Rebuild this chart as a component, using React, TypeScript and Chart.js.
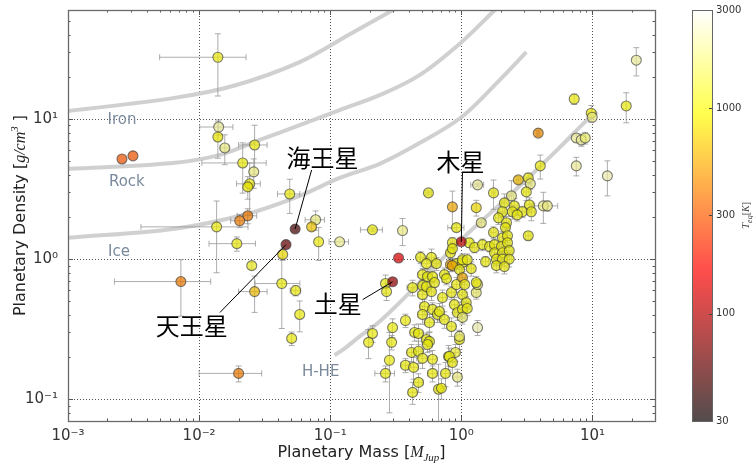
import React, { useEffect, useRef } from 'react';
import { Chart, registerables } from 'chart.js';
Chart.register(...registerables);

// ---------- axis ticks ----------
const X_TICKS = [0.001, 0.01, 0.1, 1, 10];
const X_TICK_LABELS = ['10⁻³', '10⁻²', '10⁻¹', '10⁰', '10¹'];
const Y_TICKS = [0.1, 1, 10];
const Y_TICK_LABELS = ['10⁻¹', '10⁰', '10¹'];
const CB_TICKS = [30, 100, 300, 1000, 3000];
const CB_TICK_LABELS = ['30', '100', '300', '1000', '3000'];

// ---------- composition curves [mass, density] ----------
const ironCurve = [[0.001, 11.4], [0.00631, 14.1], [0.0181, 17.2], [0.0585, 25.5], [0.141, 40.3], [0.299, 59.7], [0.48, 76]];
const rockCurve = [[0.001, 4.41], [0.00631, 4.86], [0.0144, 5.55], [0.029, 7.09], [0.0585, 9.06], [0.118, 11.6], [0.238, 14.8], [0.48, 20.6], [1.0, 35.3], [1.79, 59.7], [2.32, 76]];
const iceCurve = [[0.001, 1.42], [0.00653, 1.65], [0.0235, 2.11], [0.0585, 2.83], [0.118, 3.8], [0.238, 4.79], [0.48, 6.74], [1.0, 10.3], [1.95, 18.9], [3.13, 30.0]];
const hheCurve = [[0.108, 0.206], [0.129, 0.231], [0.168, 0.281], [0.238, 0.359], [0.425, 0.607], [0.681, 0.96], [1.0, 1.38], [1.95, 2.44], [3.3, 3.87], [5.58, 6.22], [9.46, 10.2], [10.9, 11.2]];

// ---------- exoplanets: [mass, massErr, density, densityErr, Teq] ----------
const smallPlanets = [
  [0.0139, 0.0089, 27.6, 13, 1000], [0.0141, 0.004, 8.77, 1.1, 2000], [0.0139, 0, 7.45, 2.2, 900],
  [0.0157, 0.0012, 6.22, 1.5, 1800], [0.0215, 0.011, 4.86, 1.9, 1000], [0.0265, 0.0065, 6.53, 2.5, 1000],
  [0.0261, 0, 4.2, 1.0, 1800], [0.0243, 0.005, 3.45, 1.4, 1000], [0.0235, 0, 3.28, 0.6, 900],
  [0.0491, 0.0095, 2.92, 0.8, 1000], [0.0235, 0.004, 2.04, 0.25, 400], [0.0204, 0.003, 1.88, 0.2, 400],
  [0.0136, 0.01, 1.7, 0.9, 1000], [0.0774, 0.013, 1.91, 0.3, 1800], [0.0721, 0, 1.7, 0.1, 700],
  [0.0194, 0.0075, 1.29, 0.15, 1000], [0.0434, 0, 1.08, 0.1, 800], [0.0252, 0, 0.899, 0.05, 1100],
  [0.00726, 0.005, 0.692, 0.3, 400], [0.0427, 0.016, 0.67, 0.35, 1000], [0.0265, 0.0065, 0.587, 0.17, 650],
  [0.0545, 0.005, 0.597, 0.05, 1000], [0.0585, 0, 0.403, 0.1, 1000], [0.0508, 0, 0.272, 0.03, 1000],
  [0.02, 0.01, 0.153, 0.02, 400], [0.00258, 0, 5.19, 0, 300], [0.00313, 0, 5.46, 0, 300],
  [0.0816, 0, 1.33, 0.35, 1000], [0.118, 0.02, 1.33, 0, 1900],
];
const saturnMass = [
  [0.21, 0.04, 1.62, 0.05, 1000], [0.356, 0, 1.6, 0.35, 1800], [0.21, 0, 0.295, 0.04, 1000],
  [0.196, 0, 0.255, 0.06, 1000], [0.332, 0, 1.02, 0, 140], [0.264, 0, 0.67, 0.1, 1000],
  [0.269, 0, 0.587, 0.08, 1000], [0.375, 0, 0.365, 0.04, 1000], [0.299, 0, 0.325, 0.05, 1000],
  [0.294, 0, 0.255, 0.03, 1000], [0.283, 0, 0.19, 0.11, 1000], [0.264, 0.045, 0.153, 0.02, 1000],
];
const jupiterCluster = [
  [0.561, 0.03, 2.97, 0.1, 1000], [0.855, 0, 2.36, 0.7, 550], [0.918, 0.13, 1.68, 0.1, 1000],
  [0.855, 0.03, 1.31, 0.12, 1000], [0.488, 0.03, 1.03, 0.1, 1000], [0.592, 0.04, 1.03, 0.15, 1000],
  [0.542, 0.05, 0.929, 0.08, 1000], [0.646, 0.04, 0.929, 0.1, 1000], [0.826, 0.05, 1.11, 0.1, 1000],
  [0.826, 0.04, 0.914, 0.1, 550], [0.918, 0.05, 0.929, 0.08, 1000], [1.02, 0.06, 0.944, 0.1, 1000],
  [0.506, 0.04, 0.776, 0.08, 1000], [0.552, 0.03, 0.751, 0.1, 1000], [0.603, 0.05, 0.751, 0.06, 1000],
  [0.743, 0.04, 0.776, 0.09, 1000], [0.771, 0.05, 0.726, 0.07, 1000], [0.425, 0.04, 0.627, 0.08, 1000],
  [0.506, 0.03, 0.648, 0.06, 1000], [0.506, 0.04, 0.559, 0.07, 1000], [0.542, 0.05, 0.637, 0.06, 1000],
  [0.592, 0.03, 0.587, 0.08, 1000], [0.624, 0.04, 0.681, 0.05, 1000], [0.718, 0.05, 0.532, 0.07, 1000],
  [0.841, 0.04, 0.578, 0.06, 1000], [0.918, 0.06, 0.659, 0.08, 1000], [1.02, 0.05, 0.559, 0.07, 1000],
  [0.524, 0.04, 0.459, 0.06, 1000], [0.603, 0.03, 0.438, 0.05, 1000], [0.571, 0.05, 0.353, 0.05, 1000],
  [0.506, 0.04, 0.403, 0.06, 1000], [0.658, 0.04, 0.403, 0.05, 1000], [0.681, 0.05, 0.423, 0.06, 1000],
  [0.743, 0.04, 0.371, 0.05, 1000], [0.841, 0.06, 0.331, 0.05, 1000], [0.885, 0.05, 0.474, 0.06, 1000],
  [0.933, 0.04, 0.416, 0.05, 1000], [1.02, 0.06, 0.438, 0.06, 1000], [0.44, 0.03, 0.3, 0.04, 1000],
  [0.471, 0.04, 0.295, 0.05, 1000], [0.542, 0.04, 0.267, 0.03, 1000], [0.571, 0.03, 0.259, 0.04, 1000],
  [0.552, 0.05, 0.246, 0.03, 1000], [0.417, 0.03, 0.216, 0.03, 1000], [0.471, 0.04, 0.22, 0.04, 1000],
  [0.506, 0.05, 0.196, 0.03, 1000], [0.603, 0.04, 0.193, 0.03, 1000], [0.798, 0.05, 0.202, 0.04, 1000],
  [0.902, 0.06, 0.216, 0.03, 1200], [0.968, 0.05, 0.267, 0.04, 1000], [0.375, 0.03, 0.175, 0.02, 1000],
  [0.432, 0.04, 0.169, 0.03, 1000], [0.603, 0.05, 0.153, 0.02, 1000], [0.757, 0.05, 0.153, 0.03, 1000],
  [0.933, 0.06, 0.144, 0.02, 1800], [0.471, 0.04, 0.132, 0.02, 1000], [0.425, 0.03, 0.112, 0.02, 1000],
  [0.67, 0.03, 0.118, 0.06, 1000], [1.33, 0, 0.325, 0.04, 2200], [0.968, 0.05, 0.281, 0.03, 1600],
  [0.811, 0.04, 0.202, 0.03, 1000], [0.855, 0.05, 0.183, 0.03, 1000], [1.09, 0.05, 0.49, 0.05, 1000],
  [1.11, 0.06, 0.445, 0.05, 1000], [1.02, 0.05, 0.384, 0.04, 1600], [1.3, 0.06, 0.578, 0.06, 1600],
  [1.33, 0.07, 0.659, 0.05, 1600], [0.705, 0.04, 0.12, 0.02, 1000],
];
const inflatedCluster = [
  [1.33, 0.15, 3.39, 0.1, 2000], [1.76, 0.05, 2.97, 0.7, 1000], [2.72, 0.1, 3.68, 0.2, 650],
  [3.24, 0.2, 3.8, 0.3, 1000], [3.36, 0.1, 3.45, 0.3, 1800], [3.13, 0.15, 3.02, 0.4, 1000],
  [4.0, 0, 4.63, 0.9, 1000], [2.41, 0.1, 2.83, 0.8, 1800], [1.3, 0, 2.33, 0.3, 800],
  [2.13, 0.1, 2.52, 0.4, 1000], [2.54, 0.15, 2.4, 0.3, 1000], [3.3, 0.2, 2.44, 0.3, 1000],
  [4.22, 0, 2.4, 0.6, 1800], [4.53, 0.9, 2.4, 0.2, 1800], [2.06, 0.1, 2.18, 0.2, 1000],
  [2.45, 0.12, 2.18, 0.25, 1000], [2.92, 0.15, 2.18, 0.2, 1000], [3.42, 0.2, 2.18, 0.3, 1000],
  [1.92, 0.1, 1.97, 0.2, 1000], [2.67, 0.12, 2.07, 0.2, 1000], [1.42, 0.08, 1.82, 0.1, 1800],
  [2.21, 0.1, 1.82, 0.2, 1000], [2.17, 0.1, 1.68, 0.15, 1000], [1.76, 0.08, 1.55, 0.15, 1000],
  [2.06, 0.1, 1.42, 0.15, 1000], [2.25, 0.1, 1.47, 0.2, 1000], [3.24, 0.15, 1.47, 0.1, 1000],
  [1.15, 0.06, 1.31, 0.1, 1000], [1.26, 0.05, 1.21, 0.1, 1000], [1.45, 0.08, 1.27, 0.12, 1000],
  [1.64, 0.1, 1.23, 0.1, 1000], [1.79, 0.08, 1.27, 0.1, 1000], [2.02, 0.1, 1.23, 0.12, 1000],
  [2.25, 0.1, 1.31, 0.1, 1000], [1.79, 0.1, 1.11, 0.1, 1000], [2.06, 0.1, 1.11, 0.12, 1000],
  [2.32, 0.12, 1.15, 0.1, 1000], [1.85, 0.08, 1.0, 0.1, 1000], [2.06, 0.1, 1.0, 0.1, 1000],
  [2.32, 0.1, 1.0, 0.12, 1000], [1.53, 0.08, 0.96, 0.08, 1000], [1.85, 0.1, 0.899, 0.1, 1000],
  [2.13, 0.1, 0.885, 0.1, 1000], [0.855, 0.04, 1.19, 0.1, 1000], [0.855, 0.05, 0.899, 0.08, 550],
  [1.02, 0.05, 0.99, 0.1, 1000], [1.11, 0.06, 0.99, 0.1, 1000], [0.968, 0.05, 0.842, 0.08, 1000],
  [1.19, 0.06, 0.856, 0.1, 1000], [1.02, 0.05, 0.738, 0.08, 550], [1.3, 0.06, 0.681, 0.07, 1000],
  [1.06, 0.05, 0.659, 0.08, 1000],
];
const massivePlanets = [
  [21.6, 0, 26.3, 6, 2000], [18.1, 0, 12.4, 3, 1000], [7.26, 0, 13.9, 1.2, 1000],
  [9.79, 0, 11.0, 1.5, 900], [9.96, 0, 10.3, 0, 1800], [3.86, 0.1, 7.94, 0.4, 450],
  [7.53, 0, 7.33, 0.5, 2000], [8.22, 0, 7.09, 0.7, 2000], [8.81, 0, 7.33, 0.7, 1600],
  [7.53, 0, 4.63, 0.7, 2000], [13.0, 0, 3.93, 1.1, 2200],
];
// solar system planets: [mass, density, Teq]
const solarNames = ['海王星', '天王星', '木星', '土星'];
const solarPlanets = [[0.054, 1.64, 47], [0.046, 1.27, 58], [1.0, 1.33, 110], [0.299, 0.69, 80]];

// label anchors (data coords): [textMass, textDensity, lineStartMass, lineStartDensity]
const solarLabelAnchors = [[0.0875, 5.28, 0.0721, 4.33], [0.00879, 0.336, 0.0144, 0.416], [0.985, 4.94, 1.02, 4.13], [0.114, 0.482, 0.177, 0.515]];
const compositionNames = ['Iron', 'Rock', 'Ice', 'H-HE'];
const compositionAnchors = [[0.00258, 9.84], [0.00281, 3.57], [0.00245, 1.13], [0.0845, 0.156]];

const TEQ_MIN = 30, TEQ_MAX = 3000, ALPHA = 0.7;
const clamp = (v: number) => Math.max(0, Math.min(1, v));
function hot(teq: number, alpha: number, shade = 1) {
  const t = clamp(Math.log(teq / TEQ_MIN) / Math.log(TEQ_MAX / TEQ_MIN));
  const r = 0.0416 + (1 - 0.0416) * clamp(t / 0.365);
  const g = clamp((t - 0.365) / 0.381);
  const b = clamp((t - 0.746) / 0.254);
  return `rgba(${Math.round(r * 255 * shade)},${Math.round(g * 255 * shade)},${Math.round(b * 255 * shade)},${alpha})`;
}

type Part = { t: string; f: string; dy?: number };
function drawRich(ctx: CanvasRenderingContext2D, parts: Part[], x: number, y: number) {
  let total = 0;
  for (const p of parts) { ctx.font = p.f; total += ctx.measureText(p.t).width; }
  let cx = x - total / 2;
  ctx.textAlign = 'left';
  ctx.textBaseline = 'alphabetic';
  for (const p of parts) { ctx.font = p.f; ctx.fillText(p.t, cx, y + (p.dy || 0)); cx += ctx.measureText(p.t).width; }
}

const SANS = 'DejaVu Sans';
const PLANET_INDEX = 4;

const errorBarPlugin = {
  id: 'errorBars',
  beforeDatasetDraw(chart: any, args: any) {
    if (args.index !== PLANET_INDEX) return;
    const { ctx, chartArea: a, scales } = chart;
    const xs = scales.x, ys = scales.y;
    ctx.save();
    ctx.beginPath(); ctx.rect(a.left, a.top, a.right - a.left, a.bottom - a.top); ctx.clip();
    ctx.strokeStyle = 'rgba(145,145,145,0.75)';
    ctx.lineWidth = 1;
    const cap = 3;
    for (const p of chart.data.datasets[PLANET_INDEX].data) {
      const px = xs.getPixelForValue(p.x), py = ys.getPixelForValue(p.y);
      ctx.beginPath();
      if (p.dx > 0) {
        const lo = p.x - p.dx;
        const x1 = lo > 0 ? xs.getPixelForValue(lo) : a.left - 5;
        const x2 = xs.getPixelForValue(p.x + p.dx);
        ctx.moveTo(x1, py); ctx.lineTo(x2, py);
        ctx.moveTo(x1, py - cap); ctx.lineTo(x1, py + cap);
        ctx.moveTo(x2, py - cap); ctx.lineTo(x2, py + cap);
      }
      if (p.dy > 0) {
        const lo = p.y - p.dy;
        const y1 = lo > 0 ? ys.getPixelForValue(lo) : a.bottom + 5;
        const y2 = ys.getPixelForValue(p.y + p.dy);
        ctx.moveTo(px, y1); ctx.lineTo(px, y2);
        ctx.moveTo(px - cap, y1); ctx.lineTo(px + cap, y1);
        ctx.moveTo(px - cap, y2); ctx.lineTo(px + cap, y2);
      }
      ctx.stroke();
    }
    ctx.restore();
  },
};

function minorValues(min: number, max: number) {
  const out: { v: number; major: boolean }[] = [];
  for (let e = Math.floor(Math.log10(min)); e <= Math.ceil(Math.log10(max)); e++) {
    for (let k = 1; k <= 9; k++) {
      const v = k * Math.pow(10, e);
      if (v >= min * 0.9999 && v <= max * 1.0001) out.push({ v, major: k === 1 });
    }
  }
  return out;
}

const framePlugin = {
  id: 'frame',
  beforeDatasetsDraw(chart: any) {
    const { ctx, chartArea: a, scales } = chart;
    ctx.save();
    ctx.strokeStyle = 'rgba(40,40,40,0.8)';
    ctx.lineWidth = 1;
    ctx.setLineDash([1, 2]);
    for (const v of X_TICKS.slice(1)) {
      const px = Math.round(scales.x.getPixelForValue(v)) + 0.5;
      ctx.beginPath(); ctx.moveTo(px, a.top); ctx.lineTo(px, a.bottom); ctx.stroke();
    }
    for (const v of Y_TICKS) {
      const py = Math.round(scales.y.getPixelForValue(v)) + 0.5;
      ctx.beginPath(); ctx.moveTo(a.left, py); ctx.lineTo(a.right, py); ctx.stroke();
    }
    ctx.restore();
  },
  afterDatasetsDraw(chart: any) {
    const { ctx, chartArea: a, scales } = chart;
    ctx.save();
    ctx.strokeStyle = '#555';
    ctx.lineWidth = 1;
    ctx.beginPath();
    for (const t of minorValues(scales.x.min, scales.x.max)) {
      const px = Math.round(scales.x.getPixelForValue(t.v)) + 0.5;
      const L = t.major ? 5 : 2.5;
      ctx.moveTo(px, a.bottom); ctx.lineTo(px, a.bottom - L);
      ctx.moveTo(px, a.top); ctx.lineTo(px, a.top + L);
    }
    for (const t of minorValues(scales.y.min, scales.y.max)) {
      const py = Math.round(scales.y.getPixelForValue(t.v)) + 0.5;
      const L = t.major ? 5 : 2.5;
      ctx.moveTo(a.left, py); ctx.lineTo(a.left + L, py);
      ctx.moveTo(a.right, py); ctx.lineTo(a.right - L, py);
    }
    ctx.stroke();
    ctx.strokeStyle = '#6a6a6a';
    ctx.lineWidth = 1.3;
    ctx.strokeRect(Math.round(a.left) + 0.5, Math.round(a.top) + 0.5, Math.round(a.right - a.left), Math.round(a.bottom - a.top));

    // composition labels
    ctx.fillStyle = '#7a8a9c';
    ctx.font = `15px ${SANS}`;
    ctx.textAlign = 'center';
    ctx.textBaseline = 'middle';
    compositionNames.forEach((n, i) => {
      const [m, d] = compositionAnchors[i];
      ctx.fillText(n, scales.x.getPixelForValue(m), scales.y.getPixelForValue(d));
    });

    // solar-system annotations
    ctx.strokeStyle = '#000';
    ctx.fillStyle = '#000';
    ctx.lineWidth = 1;
    ctx.font = `24px "Noto Sans CJK JP"`;
    solarNames.forEach((n, i) => {
      const [tm, td, lm, ld] = solarLabelAnchors[i];
      const [pm, pd] = solarPlanets[i];
      ctx.beginPath();
      ctx.moveTo(scales.x.getPixelForValue(lm), scales.y.getPixelForValue(ld));
      ctx.lineTo(scales.x.getPixelForValue(pm), scales.y.getPixelForValue(pd));
      ctx.stroke();
      ctx.textAlign = 'center';
      ctx.textBaseline = 'middle';
      ctx.fillText(n, scales.x.getPixelForValue(tm), scales.y.getPixelForValue(td));
    });

    // axis titles
    ctx.fillStyle = '#222';
    const cx = (a.left + a.right) / 2;
    drawRich(ctx, [
      { t: 'Planetary Mass [', f: `16px ${SANS}` },
      { t: 'M', f: 'italic 16px "Liberation Serif"' },
      { t: 'Jup', f: 'italic 11px "Liberation Serif"', dy: 4 },
      { t: ']', f: `16px ${SANS}` },
    ], cx, 457);
    ctx.save();
    ctx.translate(25, (a.top + a.bottom) / 2);
    ctx.rotate(-Math.PI / 2);
    drawRich(ctx, [
      { t: 'Planetary Density [', f: `16px ${SANS}` },
      { t: 'g/cm', f: 'italic 16px "Liberation Serif"' },
      { t: '3', f: 'italic 11px "Liberation Serif"', dy: -7 },
      { t: ' ]', f: `16px ${SANS}` },
    ], 0, 0);
    ctx.restore();
    ctx.restore();
  },
};

const colorbarPlugin = {
  id: 'colorbar',
  beforeDatasetsDraw(chart: any) {
    const { ctx, chartArea: a, scales } = chart;
    const ys = scales.y;
    ctx.save();
    const grad = ctx.createLinearGradient(0, a.bottom, 0, a.top);
    const N = 40;
    for (let i = 0; i <= N; i++) {
      const teq = TEQ_MIN * Math.pow(TEQ_MAX / TEQ_MIN, i / N);
      const py = ys.getPixelForValue(teq);
      grad.addColorStop(clamp((a.bottom - py) / (a.bottom - a.top)), hot(teq, ALPHA));
    }
    ctx.fillStyle = grad;
    ctx.fillRect(a.left, a.top, a.right - a.left, a.bottom - a.top);
    ctx.strokeStyle = '#444';
    ctx.lineWidth = 1;
    ctx.beginPath();
    for (const v of CB_TICKS.slice(1, -1)) {
      const py = Math.round(ys.getPixelForValue(v)) + 0.5;
      ctx.moveTo(a.right, py); ctx.lineTo(a.right - 3, py);
    }
    ctx.stroke();
    ctx.strokeStyle = '#666';
    ctx.strokeRect(Math.round(a.left) + 0.5, Math.round(a.top) + 0.5, Math.round(a.right - a.left), Math.round(a.bottom - a.top));
    ctx.fillStyle = '#444';
    ctx.translate(69, (a.top + a.bottom) / 2);
    ctx.rotate(-Math.PI / 2);
    drawRich(ctx, [
      { t: 'T', f: 'italic 11px "Liberation Serif"' },
      { t: 'eq', f: 'italic 8px "Liberation Serif"', dy: 3 },
      { t: '[', f: '10px "Liberation Serif"' },
      { t: 'K', f: 'italic 10px "Liberation Serif"' },
      { t: ']', f: '10px "Liberation Serif"' },
    ], 0, 0);
    ctx.restore();
  },
};

const labelFor = (values: number[], labels: string[]) => (v: any) => {
  const i = values.findIndex((t) => Math.abs(Math.log10(t) - Math.log10(Number(v))) < 1e-6);
  return i >= 0 ? labels[i] : '';
};

const curveDs = (pts: number[][]) => ({
  data: pts.map(([x, y]) => ({ x, y })),
  showLine: true,
  borderColor: 'rgba(205,205,205,0.95)',
  borderWidth: 4,
  pointRadius: 0,
  tension: 0.35,
  clip: 0,
  order: 3,
});

export default function App() {
  const mainRef = useRef<HTMLCanvasElement>(null);
  const cbRef = useRef<HTMLCanvasElement>(null);

  useEffect(() => {
    const planets = [...smallPlanets, ...saturnMass, ...jupiterCluster, ...inflatedCluster, ...massivePlanets]
      .map(([m, dm, d, dd, teq]) => ({ x: m, y: d, dx: dm, dy: dd, teq }))
      .concat(solarPlanets.map(([m, d, teq]) => ({ x: m, y: d, dx: 0, dy: 0, teq })));

    const main = new Chart(mainRef.current as HTMLCanvasElement, {
      type: 'scatter',
      data: {
        datasets: [
          curveDs(ironCurve) as any,
          curveDs(rockCurve) as any,
          curveDs(iceCurve) as any,
          curveDs(hheCurve) as any,
          {
            data: planets,
            pointRadius: 5,
            pointHoverRadius: 5,
            pointBackgroundColor: (c: any) => hot(c.raw ? c.raw.teq : 1000, 0.72, 0.9),
            pointBorderColor: 'rgba(60,60,60,0.65)',
            pointBorderWidth: 1.1,
            clip: 0,
            order: 1,
          } as any,
        ],
      },
      options: {
        animation: false,
        responsive: false,
        events: [],
        layout: { padding: { left: 0, top: 10, right: 25, bottom: 0 } },
        plugins: { legend: { display: false }, tooltip: { enabled: false } },
        scales: {
          x: {
            type: 'logarithmic',
            min: 0.001,
            max: 30,
            afterBuildTicks: (s: any) => { s.ticks = X_TICKS.map((value) => ({ value })); },
            afterFit: (s: any) => { s.height = 45; s.paddingLeft = 0; s.paddingRight = 0; },
            grid: { display: false, drawTicks: false },
            border: { display: false },
            ticks: { autoSkip: false, maxRotation: 0, padding: 6, color: '#333', font: { family: SANS, size: 15 }, callback: labelFor(X_TICKS, X_TICK_LABELS) },
          },
          y: {
            type: 'logarithmic',
            min: 0.07,
            max: 60,
            afterBuildTicks: (s: any) => { s.ticks = Y_TICKS.map((value) => ({ value })); },
            afterFit: (s: any) => { s.width = 68; s.paddingTop = 0; s.paddingBottom = 0; },
            grid: { display: false, drawTicks: false },
            border: { display: false },
            ticks: { autoSkip: false, padding: 10, color: '#333', font: { family: SANS, size: 15 }, callback: labelFor(Y_TICKS, Y_TICK_LABELS) },
          },
        },
      } as any,
      plugins: [errorBarPlugin, framePlugin],
    });

    const cb = new Chart(cbRef.current as HTMLCanvasElement, {
      type: 'scatter',
      data: { datasets: [] },
      options: {
        animation: false,
        responsive: false,
        events: [],
        layout: { padding: { left: 12, top: 10, right: 0, bottom: 45 } },
        plugins: { legend: { display: false }, tooltip: { enabled: false } },
        scales: {
          x: { display: false, min: 0, max: 1 },
          y: {
            type: 'logarithmic',
            position: 'right',
            min: TEQ_MIN,
            max: TEQ_MAX,
            afterBuildTicks: (s: any) => { s.ticks = CB_TICKS.map((value) => ({ value })); },
            afterFit: (s: any) => { s.width = 41; s.paddingTop = 0; s.paddingBottom = 0; },
            grid: { display: false, drawTicks: false },
            border: { display: false },
            ticks: { autoSkip: false, padding: 4, color: '#333', font: { family: SANS, size: 10 }, callback: labelFor(CB_TICKS, CB_TICK_LABELS) },
          },
        },
      } as any,
      plugins: [colorbarPlugin],
    });

    return () => { main.destroy(); cb.destroy(); };
  }, []);

  return (
    <div style={{ position: 'absolute', left: 0, top: 0, width: 753, height: 466, background: '#fff' }}>
      <canvas ref={mainRef} width={680} height={466} style={{ position: 'absolute', left: 0, top: 0 }} />
      <canvas ref={cbRef} width={73} height={466} style={{ position: 'absolute', left: 680, top: 0 }} />
    </div>
  );
}
